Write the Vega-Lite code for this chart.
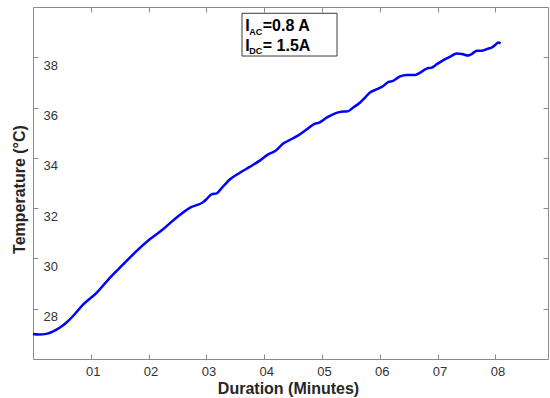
{
  "$schema": "https://vega.github.io/schema/vega-lite/v6.json",
  "width": 515,
  "height": 352,
  "autosize": {"type": "none"},
  "padding": {"left": 33, "top": 7, "right": 2, "bottom": 39},
  "background": "white",
  "config": {
    "view": {"stroke": null},
    "font": "Liberation Sans",
    "axis": {
      "grid": false,
      "domainColor": "#8a8a8a",
      "tickColor": "#8a8a8a",
      "tickSize": -5,
      "labelFont": "Liberation Sans",
      "labelFontSize": 13,
      "labelColor": "#333333",
      "titleFont": "Liberation Sans",
      "titleFontSize": 16,
      "titleFontWeight": "bold",
      "titleColor": "#262626"
    }
  },
  "datasets": {
    "curve": [
      {"t": 0.0, "temp": 26.99},
      {"t": 0.1, "temp": 26.97},
      {"t": 0.23, "temp": 27.0},
      {"t": 0.35, "temp": 27.1},
      {"t": 0.46, "temp": 27.24},
      {"t": 0.58, "temp": 27.45},
      {"t": 0.69, "temp": 27.7},
      {"t": 0.87, "temp": 28.17},
      {"t": 1.1, "temp": 28.63},
      {"t": 1.33, "temp": 29.23},
      {"t": 1.56, "temp": 29.76},
      {"t": 1.79, "temp": 30.29},
      {"t": 2.02, "temp": 30.76},
      {"t": 2.25, "temp": 31.16},
      {"t": 2.48, "temp": 31.62},
      {"t": 2.72, "temp": 32.02},
      {"t": 2.95, "temp": 32.25},
      {"t": 3.0, "temp": 32.35},
      {"t": 3.09, "temp": 32.55},
      {"t": 3.18, "temp": 32.59},
      {"t": 3.26, "temp": 32.79},
      {"t": 3.41, "temp": 33.15},
      {"t": 3.58, "temp": 33.41},
      {"t": 3.75, "temp": 33.64},
      {"t": 3.93, "temp": 33.9},
      {"t": 4.07, "temp": 34.14},
      {"t": 4.19, "temp": 34.27},
      {"t": 4.33, "temp": 34.57},
      {"t": 4.5, "temp": 34.78},
      {"t": 4.62, "temp": 34.94},
      {"t": 4.74, "temp": 35.14},
      {"t": 4.88, "temp": 35.36},
      {"t": 4.94, "temp": 35.39},
      {"t": 5.08, "temp": 35.6},
      {"t": 5.2, "temp": 35.74},
      {"t": 5.37, "temp": 35.84},
      {"t": 5.43, "temp": 35.84},
      {"t": 5.54, "temp": 36.0},
      {"t": 5.66, "temp": 36.2},
      {"t": 5.75, "temp": 36.41},
      {"t": 5.83, "temp": 36.6},
      {"t": 5.95, "temp": 36.73},
      {"t": 6.06, "temp": 36.86},
      {"t": 6.15, "temp": 37.02},
      {"t": 6.23, "temp": 37.06},
      {"t": 6.35, "temp": 37.24},
      {"t": 6.47, "temp": 37.3},
      {"t": 6.61, "temp": 37.3},
      {"t": 6.7, "temp": 37.39},
      {"t": 6.81, "temp": 37.55},
      {"t": 6.9, "temp": 37.59},
      {"t": 6.99, "temp": 37.73},
      {"t": 7.1, "temp": 37.89},
      {"t": 7.22, "temp": 38.03},
      {"t": 7.33, "temp": 38.15},
      {"t": 7.42, "temp": 38.13},
      {"t": 7.53, "temp": 38.07},
      {"t": 7.59, "temp": 38.13},
      {"t": 7.68, "temp": 38.26},
      {"t": 7.77, "temp": 38.26},
      {"t": 7.88, "temp": 38.35},
      {"t": 7.94, "temp": 38.39},
      {"t": 8.0, "temp": 38.5},
      {"t": 8.05, "temp": 38.59},
      {"t": 8.09, "temp": 38.55}
    ],
    "box": [
      {"x1": 3.616, "x2": 5.26, "y1": 38.05, "y2": 39.75}
    ],
    "mainText": [
      {"x": 3.672, "y": 39.03, "label": "I"},
      {"x": 3.975, "y": 39.03, "label": "=0.8 A"},
      {"x": 3.672, "y": 38.26, "label": "I"},
      {"x": 3.975, "y": 38.26, "label": "= 1.5A"}
    ],
    "subText": [
      {"x": 3.74, "y": 38.88, "label": "AC"},
      {"x": 3.74, "y": 38.13, "label": "DC"}
    ]
  },
  "layer": [
    {
      "data": {"name": "curve"},
      "mark": {"type": "line", "color": "#0000ff", "strokeWidth": 2.5, "interpolate": "monotone"},
      "encoding": {
        "x": {
          "field": "t", "type": "quantitative",
          "scale": {"domain": [0, 8.91], "nice": false, "zero": false},
          "axis": {
            "orient": "bottom",
            "values": [1, 2, 3, 4, 5, 6, 7, 8],
            "labelExpr": "'0' + datum.value",
            "labelPadding": 11.5,
            "labelOffset": 2,
            "title": "Duration (Minutes)",
            "titlePadding": 2,
            "titleX": 255
          }
        },
        "y": {
          "field": "temp", "type": "quantitative",
          "scale": {"domain": [26, 40], "nice": false, "zero": false},
          "axis": {
            "orient": "left",
            "values": [28, 30, 32, 34, 36, 38],
            "labelAlign": "left",
            "labelBaseline": "middle",
            "labelPadding": -5,
            "labelOffset": 8,
            "title": "Temperature (°C)",
            "titlePadding": 5,
            "titleY": 182
          }
        }
      }
    },
    {
      "data": {"name": "box"},
      "mark": {"type": "rect", "fill": "white", "stroke": "#3a3a3a", "strokeWidth": 1},
      "encoding": {
        "x": {
          "field": "x1", "type": "quantitative",
          "scale": {"domain": [0, 8.91], "nice": false, "zero": false},
          "axis": {
            "orient": "top",
            "values": [1, 2, 3, 4, 5, 6, 7, 8],
            "labels": false,
            "title": null
          }
        },
        "x2": {"field": "x2"},
        "y": {
          "field": "y1", "type": "quantitative",
          "scale": {"domain": [26, 40], "nice": false, "zero": false},
          "axis": {
            "orient": "right",
            "values": [28, 30, 32, 34, 36, 38],
            "labels": false,
            "title": null
          }
        },
        "y2": {"field": "y2"}
      }
    },
    {
      "data": {"name": "mainText"},
      "mark": {"type": "text", "align": "left", "baseline": "alphabetic", "font": "Liberation Sans", "fontSize": 16, "fontWeight": "bold", "color": "#000000"},
      "encoding": {
        "x": {"field": "x", "type": "quantitative", "axis": null, "scale": {"domain": [0, 8.91], "nice": false, "zero": false}},
        "y": {"field": "y", "type": "quantitative", "axis": null, "scale": {"domain": [26, 40], "nice": false, "zero": false}},
        "text": {"field": "label"}
      }
    },
    {
      "data": {"name": "subText"},
      "mark": {"type": "text", "align": "left", "baseline": "alphabetic", "font": "Liberation Sans", "fontSize": 9, "fontWeight": "bold", "color": "#000000"},
      "encoding": {
        "x": {"field": "x", "type": "quantitative", "axis": null, "scale": {"domain": [0, 8.91], "nice": false, "zero": false}},
        "y": {"field": "y", "type": "quantitative", "axis": null, "scale": {"domain": [26, 40], "nice": false, "zero": false}},
        "text": {"field": "label"}
      }
    }
  ],
  "resolve": {"axis": {"x": "independent", "y": "independent"}}
}
